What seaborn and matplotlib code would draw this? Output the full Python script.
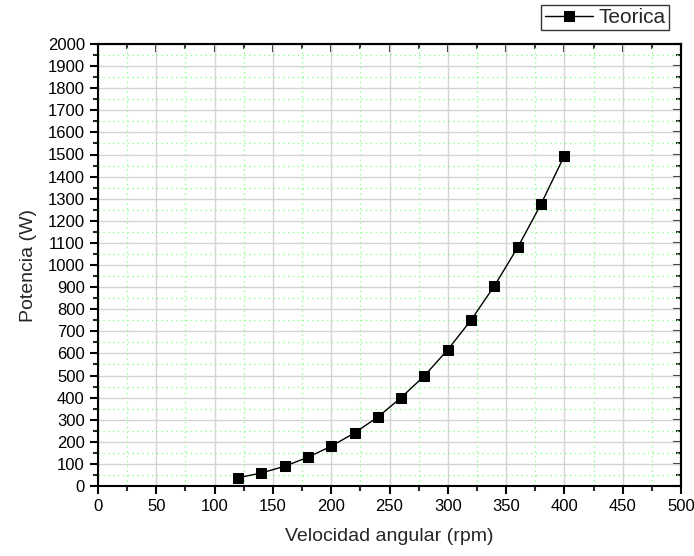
import matplotlib
matplotlib.use("Agg")
import matplotlib.pyplot as plt
import seaborn as sns
import pandas as pd
from matplotlib.ticker import MultipleLocator

velocidad = [120, 140, 160, 180, 200, 220, 240, 260, 280, 300, 320, 340, 360, 380, 400]
potencia = [37, 59, 89, 130, 180, 240, 312, 400, 499, 617, 751, 906, 1080, 1276, 1495]
serie = "Teorica"

df = pd.DataFrame({"Velocidad angular (rpm)": velocidad, "Potencia (W)": potencia, "serie": serie})

sns.set_style("white")
plt.rcParams["font.family"] = ["Liberation Sans", "DejaVu Sans"]

fig = plt.figure(figsize=(6.94, 5.56), dpi=100)
ax = fig.add_axes([98/694, 70/556, (681-98)/694, (486-44)/556])

sns.lineplot(data=df, x="Velocidad angular (rpm)", y="Potencia (W)", hue="serie",
             palette=["black"], marker="s", markersize=7, markeredgecolor="black",
             linewidth=1, ax=ax, legend=True, zorder=5)

ax.set_xlim(0, 500)
ax.set_ylim(0, 2000)
ax.xaxis.set_major_locator(MultipleLocator(50))
ax.xaxis.set_minor_locator(MultipleLocator(25))
ax.yaxis.set_major_locator(MultipleLocator(100))
ax.yaxis.set_minor_locator(MultipleLocator(50))

ax.grid(which="major", color="#d4d4d4", linestyle="-", linewidth=1)
ax.grid(which="minor", color="#8cff8c", linestyle=(0, (1, 2.5)), linewidth=1)
ax.set_axisbelow(True)

for s in ax.spines.values():
    s.set_color("black")
    s.set_linewidth(1.5)

ax.tick_params(which="major", direction="out", length=6, width=1.5, labelsize=12, colors="black", bottom=True, left=True)
ax.tick_params(which="minor", direction="out", length=3.5, width=1.5, bottom=True, left=True)
secx = ax.secondary_xaxis("top")
secx.xaxis.set_major_locator(MultipleLocator(50))
secx.xaxis.set_minor_locator(MultipleLocator(25))
secx.tick_params(which="major", direction="in", length=6, width=1.5, labeltop=False)
secx.tick_params(which="minor", direction="in", length=3.5, width=1.5)
secx.spines["top"].set_linewidth(1.5)
secy = ax.secondary_yaxis("right")
secy.yaxis.set_major_locator(MultipleLocator(100))
secy.yaxis.set_minor_locator(MultipleLocator(50))
secy.tick_params(which="major", direction="in", length=6, width=1.5, labelright=False)
secy.tick_params(which="minor", direction="in", length=3.5, width=1.5)
secy.spines["right"].set_linewidth(1.5)
ax.tick_params(axis="both", which="both", top=False, right=False)

ax.set_xlabel("Velocidad angular (rpm)", fontsize=14, labelpad=10)
ax.set_ylabel("Potencia (W)", fontsize=14, labelpad=8)

leg = ax.legend(loc="upper right", bbox_to_anchor=(669/694, 1 - 5/556),
                bbox_transform=fig.transFigure, frameon=True, fancybox=False,
                fontsize=15, handlelength=2.3, handletextpad=0.3, borderpad=0.15,
                borderaxespad=0)
leg.get_frame().set_edgecolor("black")
leg.get_frame().set_linewidth(1)

fig.savefig("out.png", dpi=100)
